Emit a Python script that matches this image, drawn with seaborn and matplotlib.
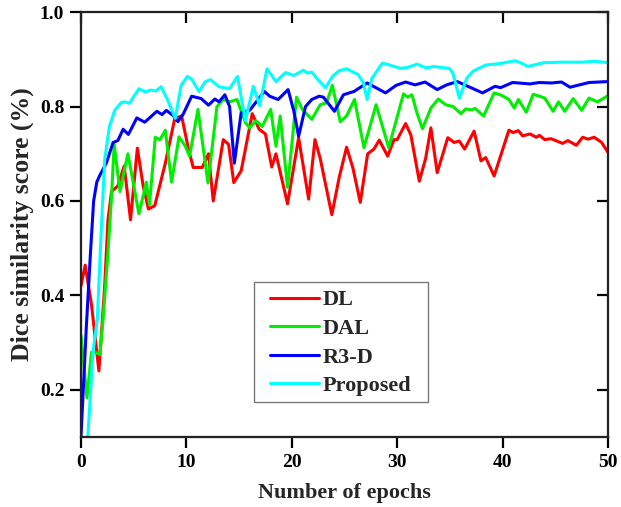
import numpy as np
import pandas as pd
import matplotlib
matplotlib.use("Agg")
import matplotlib.pyplot as plt
from matplotlib.patches import Rectangle
import seaborn as sns

# ---------------- data ----------------
dl_x = [0, 0.4, 1.0, 1.7, 2.25, 2.56, 2.9, 3.5, 4.1, 4.7, 5.35, 5.9, 6.4, 7.0, 8.0, 8.9,
        9.55, 10.2, 10.65, 11.5, 12.1, 12.55, 13.5, 14.0, 14.5, 15.2, 15.6, 16.25, 16.9,
        17.5, 18.1, 18.5, 19.6, 20.65, 21.6, 22.2, 22.7, 23.8, 24.5, 25.2, 25.8, 26.5,
        27.2, 27.8, 28.3, 29.1, 29.7, 30.0, 30.8, 31.3, 32.1, 32.7, 33.2, 33.8, 34.8,
        35.4, 35.9, 36.4, 37.3, 37.95, 38.4, 39.2, 40.6, 41.0, 41.5, 41.9, 42.6, 43.2,
        43.5, 44.0, 44.6, 45.7, 46.2, 47.0, 47.6, 48.1, 48.7, 49.4, 50.0]
dl_y = [0.42, 0.464, 0.38, 0.24, 0.42, 0.56, 0.62, 0.632, 0.674, 0.56, 0.712, 0.632, 0.583,
        0.59, 0.68, 0.775, 0.78, 0.71, 0.671, 0.671, 0.70, 0.60, 0.73, 0.72, 0.639, 0.664,
        0.71, 0.785, 0.752, 0.742, 0.672, 0.70, 0.594, 0.734, 0.604, 0.73, 0.69, 0.571,
        0.65, 0.714, 0.67, 0.597, 0.70, 0.71, 0.729, 0.695, 0.73, 0.73, 0.764, 0.74, 0.642,
        0.69, 0.755, 0.66, 0.734, 0.724, 0.727, 0.71, 0.748, 0.685, 0.692, 0.653, 0.75,
        0.745, 0.749, 0.738, 0.742, 0.735, 0.739, 0.73, 0.732, 0.722, 0.728, 0.718, 0.735,
        0.731, 0.735, 0.724, 0.703]

dal_x = [0, 0.57, 1.0, 1.3, 1.8, 2.1, 2.56, 2.9, 3.15, 3.7, 4.45, 5.5, 6.2, 6.5, 7.05, 7.5,
         8.0, 8.6, 9.3, 9.9, 10.3, 11.1, 12.05, 12.9, 13.5, 14.1, 14.8, 15.6, 16.0, 16.6,
         17.2, 18.0, 18.5, 18.9, 19.6, 20.45, 21.0, 21.9, 22.7, 23.3, 23.85, 24.6, 25.2,
         25.95, 26.85, 28.0, 29.2, 29.9, 30.6, 31.0, 31.4, 31.9, 32.4, 33.2, 33.9, 34.6,
         35.3, 36.05, 36.5, 37.0, 37.4, 38.2, 39.2, 39.9, 40.6, 41.1, 41.5, 42.25, 42.9,
         43.5, 44.0, 44.8, 45.3, 45.9, 46.7, 47.5, 48.2, 49.0, 50.0]
dal_y = [0.316, 0.183, 0.28, 0.28, 0.275, 0.35, 0.49, 0.61, 0.72, 0.62, 0.70, 0.573, 0.64,
         0.592, 0.735, 0.73, 0.75, 0.64, 0.736, 0.716, 0.695, 0.794, 0.638, 0.80, 0.815,
         0.81, 0.815, 0.766, 0.755, 0.77, 0.758, 0.794, 0.716, 0.78, 0.629, 0.82, 0.794,
         0.773, 0.804, 0.808, 0.845, 0.768, 0.78, 0.815, 0.713, 0.804, 0.713, 0.77, 0.827,
         0.82, 0.825, 0.785, 0.753, 0.797, 0.816, 0.804, 0.80, 0.785, 0.795, 0.793, 0.796,
         0.78, 0.829, 0.824, 0.815, 0.797, 0.815, 0.788, 0.826, 0.822, 0.818, 0.79, 0.81,
         0.79, 0.817, 0.792, 0.818, 0.81, 0.823]

r3d_x = [0, 0.5, 0.9, 1.2, 1.5, 1.8, 2.4, 3.05, 3.5, 4.0, 4.5, 5.3, 6.05, 7.2, 7.7, 8.1,
         8.8, 9.2, 9.7, 10.5, 11.4, 12.1, 12.7, 13.1, 13.65, 14.1, 14.55, 15.2, 16.0, 17.4,
         17.9, 18.7, 19.65, 20.2, 20.65, 21.3, 21.9, 22.6, 23.0, 24.05, 24.9, 25.9, 27.15,
         28.9, 29.9, 30.8, 31.7, 32.65, 33.8, 34.7, 35.7, 36.8, 38.1, 39.3, 39.8, 40.95,
         42.6, 43.5, 44.6, 45.6, 46.4, 48.2, 50.0]
r3d_y = [0.10, 0.33, 0.49, 0.60, 0.64, 0.655, 0.68, 0.724, 0.728, 0.752, 0.741, 0.776, 0.767,
         0.79, 0.783, 0.792, 0.78, 0.768, 0.784, 0.822, 0.817, 0.803, 0.816, 0.81, 0.825,
         0.80, 0.68, 0.787, 0.792, 0.832, 0.822, 0.815, 0.836, 0.79, 0.737, 0.80, 0.815,
         0.822, 0.82, 0.79, 0.825, 0.832, 0.85, 0.829, 0.845, 0.852, 0.846, 0.852, 0.836,
         0.846, 0.853, 0.842, 0.829, 0.843, 0.84, 0.851, 0.848, 0.851, 0.85, 0.852, 0.841,
         0.851, 0.853]

prop_x = [0.65, 1.14, 1.55, 1.9, 2.25, 2.7, 3.2, 3.8, 4.1, 4.6, 5.5, 6.1, 6.6, 7.1, 7.6,
          8.2, 8.95, 9.5, 10.1, 10.5, 11.2, 11.8, 12.3, 13.1, 14.1, 14.85, 15.6, 16.35,
          16.95, 17.65, 18.5, 19.4, 20.2, 21.1, 21.5, 21.9, 22.4, 23.2, 23.9, 24.5, 25.2,
          26.3, 26.8, 27.15, 27.6, 28.6, 29.3, 30.3, 31.0, 31.9, 32.7, 33.5, 34.1, 34.95,
          35.3, 35.9, 36.6, 37.2, 38.4, 39.7, 41.2, 41.7, 42.4, 43.9, 45.5, 47.5, 48.8, 50.0]
prop_y = [0.10, 0.28, 0.35, 0.527, 0.688, 0.758, 0.792, 0.808, 0.81, 0.807, 0.838, 0.831,
          0.835, 0.833, 0.842, 0.815, 0.775, 0.845, 0.864, 0.858, 0.832, 0.853, 0.857,
          0.842, 0.838, 0.864, 0.77, 0.843, 0.802, 0.88, 0.853, 0.872, 0.866, 0.877, 0.871,
          0.873, 0.859, 0.84, 0.865, 0.876, 0.88, 0.868, 0.85, 0.815, 0.86, 0.892, 0.888,
          0.881, 0.883, 0.89, 0.882, 0.885, 0.883, 0.881, 0.87, 0.818, 0.86, 0.875, 0.888,
          0.891, 0.897, 0.893, 0.885, 0.893, 0.894, 0.894, 0.896, 0.893]

series_names = ["DL", "DAL", "R3-D", "Proposed"]
series_colors = ["#ff0000", "#00ee00", "#0000ff", "#00ffff"]
x_ticks = [0, 10, 20, 30, 40, 50]
y_ticks = [0.2, 0.4, 0.6, 0.8, 1.0]

# ---------------- build table ----------------
frames = []
for name, xs, ys in zip(series_names, [dl_x, dal_x, r3d_x, prop_x], [dl_y, dal_y, r3d_y, prop_y]):
    frames.append(pd.DataFrame({"epoch": xs, "score": ys, "method": name}))
df = pd.concat(frames, ignore_index=True)

# ---------------- style ----------------
sns.set_theme(style="ticks", rc={"xtick.major.size": 8, "ytick.major.size": 8,
                                 "xtick.major.width": 1.6, "ytick.major.width": 1.6,
                                 "xtick.color": "black", "ytick.color": "black",
                                 "xtick.labelcolor": "black", "ytick.labelcolor": "black",
                                 "xtick.major.pad": 4, "ytick.major.pad": 4,
                                 "axes.edgecolor": "#222222", "axes.linewidth": 1.5})
plt.rcParams["font.family"] = ["Liberation Serif", "DejaVu Serif"]
plt.rcParams["font.weight"] = "bold"

fig = plt.figure(figsize=(6.21, 5.07), dpi=100)
ax = fig.add_axes([0.1304, 0.138, 0.8486, 0.838])

sns.lineplot(data=df, x="epoch", y="score", hue="method", hue_order=series_names,
             palette=series_colors, estimator=None, sort=False, linewidth=2.2, ax=ax)

ax.set_xlim(0, 50)
ax.set_ylim(0.1, 1.0)
ax.set_xticks(x_ticks)
ax.set_yticks(y_ticks)
ax.set_xticklabels([str(t) for t in x_ticks], fontsize=14, fontweight="bold")
ax.set_yticklabels([f"{t:.1f}" for t in y_ticks], fontsize=14, fontweight="bold")
ax.tick_params(axis="both", which="major", direction="out", length=8, width=1.6,
               color="black", bottom=True, left=True, top=False, right=False)

# inward ticks on the top and right edges through twin axes
axt = ax.twiny()
axt.set_xlim(ax.get_xlim())
axt.set_xticks(x_ticks)
axt.tick_params(axis="x", direction="in", length=8, width=1.6, color="black",
                top=True, bottom=False, labeltop=False, labelbottom=False)
axr = ax.twinx()
axr.set_ylim(ax.get_ylim())
axr.set_yticks(y_ticks)
axr.tick_params(axis="y", direction="in", length=8, width=1.6, color="black",
                right=True, left=False, labelright=False, labelleft=False)
for a in (ax, axt, axr):
    for s in a.spines.values():
        s.set_visible(True)
        s.set_color("#222222")
        s.set_linewidth(1.5)

ax.set_xlabel("Number of epochs", fontsize=16, fontweight="bold", labelpad=9)
ax.set_ylabel("Dice similarity score (%)", fontsize=18.5, fontweight="bold", labelpad=4)

# legend box drawn as a separate frame, legend content placed inside it
ax.add_patch(Rectangle((0.3283, 0.0824), 0.3301, 0.2823, transform=ax.transAxes,
                       facecolor="white", edgecolor="#777777", linewidth=1.0, zorder=4))
leg = ax.legend(loc="center left", bbox_to_anchor=(0.3586, 0.2212), borderaxespad=0,
                frameon=False,
                prop={"family": "Liberation Serif", "weight": "bold", "size": 16},
                handlelength=2.2, labelspacing=0.36, borderpad=0.0, handletextpad=0.15)
leg.set_zorder(5)
for h in leg.get_lines():
    h.set_linewidth(2.2)

fig.savefig("out.png", dpi=100)
